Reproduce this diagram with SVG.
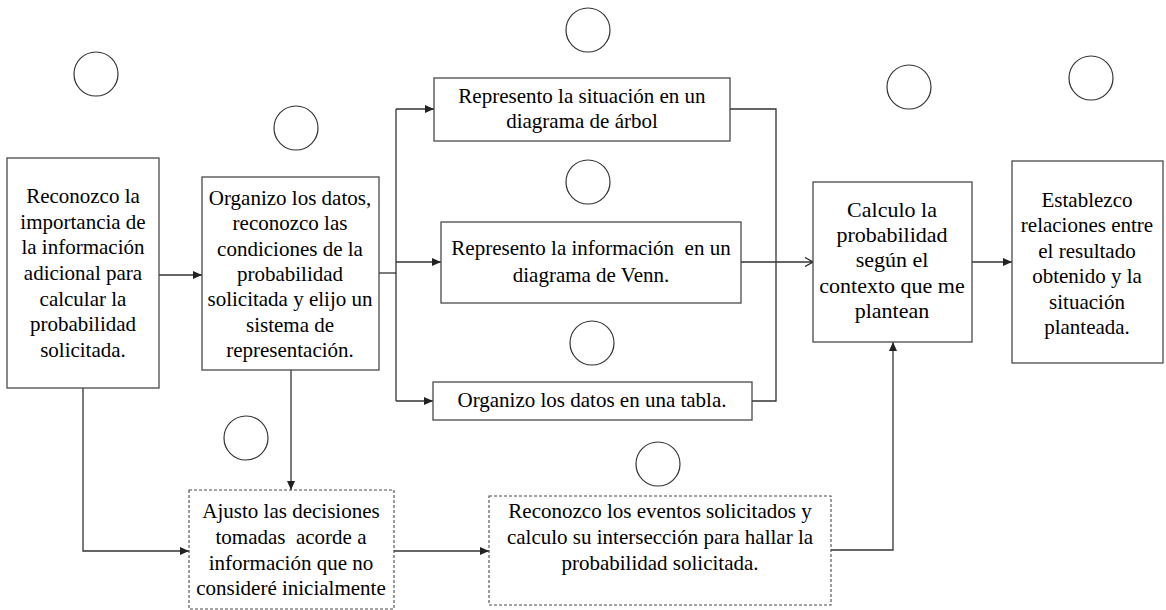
<svg xmlns="http://www.w3.org/2000/svg" width="1166" height="610" viewBox="0 0 1166 610" font-family="Liberation Serif, serif">
<style>
text{font-family:Liberation Serif, serif;font-size:21px;fill:#000;text-anchor:middle}
.calc{font-size:22px}
.box{fill:#fff;stroke:#4a4a4a;stroke-width:1.3}
.dash{fill:#fff;stroke:#4a4a4a;stroke-width:1.1;stroke-dasharray:3 2}
.c{fill:none;stroke:#333;stroke-width:1.2}
.ln{fill:none;stroke:#333;stroke-width:1.3}
</style>
<defs>
<marker id="ah" markerWidth="10" markerHeight="8" refX="9" refY="4" orient="auto" markerUnits="userSpaceOnUse">
<path d="M0,0 L9,4 L0,8 Z" fill="#222"/>
</marker>
<marker id="ao" markerWidth="10" markerHeight="10" refX="9" refY="5" orient="auto" markerUnits="userSpaceOnUse">
<path d="M1,0.5 L9,5 L1,9.5" fill="none" stroke="#222" stroke-width="1.2"/>
</marker>
</defs>
<rect width="1166" height="610" fill="#fff"/>
<g id="circles">
<circle class="c" cx="96" cy="74" r="22"/>
<circle class="c" cx="296" cy="128" r="22"/>
<circle class="c" cx="588" cy="30" r="22"/>
<circle class="c" cx="909" cy="87" r="22"/>
<circle class="c" cx="1091" cy="78" r="22"/>
<circle class="c" cx="588" cy="182" r="22"/>
<circle class="c" cx="592" cy="343" r="22"/>
<circle class="c" cx="246" cy="438" r="22"/>
<circle class="c" cx="658" cy="464" r="22"/>
</g>
<g id="connectors">
<path class="ln" d="M159,275 H202" marker-end="url(#ah)"/>
<path class="ln" d="M379,273 H396"/>
<path class="ln" d="M396,109 V401"/>
<path class="ln" d="M396,109 H434" marker-end="url(#ah)"/>
<path class="ln" d="M396,262 H441" marker-end="url(#ah)"/>
<path class="ln" d="M396,401 H433" marker-end="url(#ah)"/>
<path class="ln" d="M730,109 H776 V401 H752"/>
<path class="ln" d="M741,262 H813" marker-end="url(#ao)"/>
<path class="ln" d="M972,262 H1012" marker-end="url(#ah)"/>
<path class="ln" d="M83,388 V551 H189" marker-end="url(#ah)"/>
<path class="ln" d="M291,370 V490" marker-end="url(#ah)"/>
<path class="ln" d="M394,551 H489" marker-end="url(#ah)"/>
<path class="ln" d="M831,550 H893 V342" marker-end="url(#ah)"/>
</g>
<g id="n1">
<rect class="box" x="7" y="158" width="152" height="230"/>
<text font-family="Liberation Serif, serif"><tspan x="83" y="203">Reconozco la</tspan><tspan x="83" y="229">importancia de</tspan><tspan x="83" y="254">la información</tspan><tspan x="83" y="280">adicional para</tspan><tspan x="83" y="306">calcular la</tspan><tspan x="83" y="331">probabilidad</tspan><tspan x="83" y="357">solicitada.</tspan></text>
</g>
<g id="n2">
<rect class="box" x="202" y="177" width="177" height="193"/>
<text font-family="Liberation Serif, serif"><tspan x="290" y="205">Organizo los datos,</tspan><tspan x="290" y="230">reconozco las</tspan><tspan x="290" y="256">condiciones de la</tspan><tspan x="290" y="281">probabilidad</tspan><tspan x="290" y="306">solicitada y elijo un</tspan><tspan x="290" y="332">sistema de</tspan><tspan x="290" y="357">representación.</tspan></text>
</g>
<g id="nA">
<rect class="box" x="434" y="78" width="296" height="63"/>
<text font-family="Liberation Serif, serif"><tspan x="582" y="103">Represento la situación en un</tspan><tspan x="582" y="128">diagrama de árbol</tspan></text>
</g>
<g id="nB">
<rect class="box" x="441" y="222" width="300" height="81"/>
<text font-family="Liberation Serif, serif"><tspan x="591" y="255">Represento la información&#160; en un</tspan><tspan x="591" y="282">diagrama de Venn.</tspan></text>
</g>
<g id="nC">
<rect class="box" x="433" y="382" width="319" height="38"/>
<text font-family="Liberation Serif, serif" x="592" y="407">Organizo los datos en una tabla.</text>
</g>
<g id="nCalc">
<rect class="box" x="813" y="182" width="159" height="160"/>
<text class="calc" font-family="Liberation Serif, serif"><tspan x="892" y="217">Calculo la</tspan><tspan x="892" y="242">probabilidad</tspan><tspan x="892" y="267">según el</tspan><tspan x="892" y="293">contexto que me</tspan><tspan x="892" y="318">plantean</tspan></text>
</g>
<g id="nEst">
<rect class="box" x="1012" y="161" width="151" height="202"/>
<text font-family="Liberation Serif, serif"><tspan x="1087" y="207">Establezco</tspan><tspan x="1087" y="232">relaciones entre</tspan><tspan x="1087" y="258">el resultado</tspan><tspan x="1087" y="283">obtenido y la</tspan><tspan x="1087" y="309">situación</tspan><tspan x="1087" y="334">planteada.</tspan></text>
</g>
<g id="nAjusto">
<rect class="dash" x="189" y="490" width="205" height="119"/>
<text font-family="Liberation Serif, serif"><tspan x="291" y="518">Ajusto las decisiones</tspan><tspan x="291" y="544">tomadas&#160; acorde a</tspan><tspan x="291" y="570">información que no</tspan><tspan x="291" y="595">consideré inicialmente</tspan></text>
</g>
<g id="nEventos">
<rect class="dash" x="489" y="496" width="342" height="109"/>
<text font-family="Liberation Serif, serif"><tspan x="660" y="518">Reconozco los eventos solicitados y</tspan><tspan x="660" y="544">calculo su intersección para hallar la</tspan><tspan x="660" y="570">probabilidad solicitada.</tspan></text>
</g>
</svg>
